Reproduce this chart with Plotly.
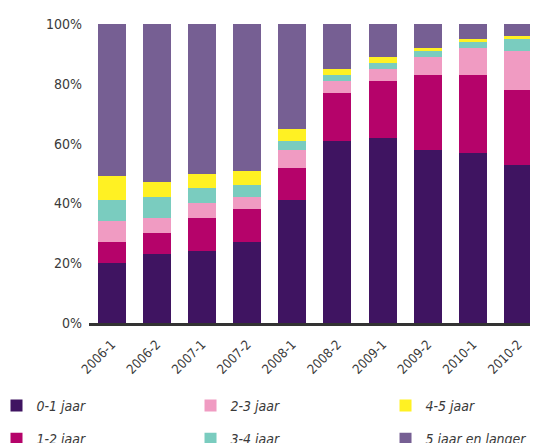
import plotly.graph_objects as go

categories = ["2006-1", "2006-2", "2007-1", "2007-2", "2008-1",
              "2008-2", "2009-1", "2009-2", "2010-1", "2010-2"]

s_0_1 = [20, 23, 24, 27, 41, 61, 62, 58, 57, 53]
s_1_2 = [7, 7, 11, 11, 11, 16, 19, 25, 26, 25]
s_2_3 = [7, 5, 5, 4, 6, 4, 4, 6, 9, 13]
s_3_4 = [7, 7, 5, 4, 3, 2, 2, 2, 2, 4]
s_4_5 = [8, 5, 5, 5, 4, 2, 2, 1, 1, 1]
s_5plus = [51, 53, 50, 49, 35, 15, 11, 8, 5, 4]

series_names = ["0-1 jaar", "1-2 jaar", "2-3 jaar", "3-4 jaar", "4-5 jaar", "5 jaar en langer"]
series_values = [s_0_1, s_1_2, s_2_3, s_3_4, s_4_5, s_5plus]
colors = ["#3f1461", "#b5036a", "#f09bc2", "#7accbf", "#fff123", "#765f93"]
legends = ["legend", "legend", "legend2", "legend2", "legend3", "legend3"]

y_ticks = [0, 20, 40, 60, 80, 100]
y_tick_labels = ["0%", "20%", "40%", "60%", "80%", "100%"]

FONT = "Liberation Sans Narrow, DejaVu Sans Condensed, Roboto, sans-serif"
TXT = "#3a3a3a"

fig = go.Figure()
for i, (name, vals, col, lg) in enumerate(zip(series_names, series_values, colors, legends)):
    fig.add_trace(go.Bar(
        x=categories, y=vals, name=name,
        marker=dict(color=col, line=dict(width=0)),
        width=0.62, legend=lg, legendgroup=name,
        hoverinfo="x+y+name",
    ))

leg_common = dict(
    orientation="v", xref="paper", yref="container",
    yanchor="top", xanchor="left",
    traceorder="grouped", tracegroupgap=12,
    font=dict(family=FONT, size=14, color=TXT, style="italic"),
    bgcolor="rgba(0,0,0,0)", borderwidth=0,
)

fig.update_layout(
    width=538, height=443,
    margin=dict(l=81, r=8, t=16, b=128, autoexpand=False),
    paper_bgcolor="white", plot_bgcolor="white",
    barmode="stack",
    font=dict(family=FONT, size=13, color=TXT),
    legend=dict(x=-0.206, y=0.1377, **leg_common),
    legend2=dict(x=0.2261, y=0.1377, **leg_common),
    legend3=dict(x=0.6604, y=0.1377, **leg_common),
    xaxis=dict(
        type="category", range=[-0.5, 9.44], automargin=False,
        showline=True, linecolor="#333333", linewidth=2.5,
        ticks="", tickangle=-45, showgrid=False,
        ticklabelstandoff=6,
        tickfont=dict(family=FONT, size=13, color=TXT),
    ),
    yaxis=dict(
        range=[0, 100], tickvals=y_ticks, ticktext=y_tick_labels,
        automargin=False,
        showgrid=False, zeroline=False, showline=False, ticks="",
        ticklabelstandoff=6,
        tickfont=dict(family=FONT, size=14, color=TXT),
    ),
)

fig.write_html("out.html")
